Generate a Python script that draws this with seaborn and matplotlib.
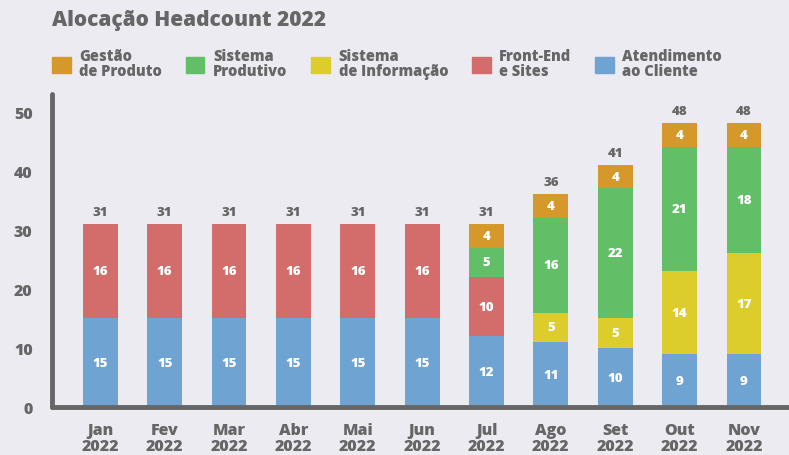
import numpy as np
import pandas as pd
import matplotlib
matplotlib.use("Agg")
import matplotlib.pyplot as plt
import matplotlib.patches as mpatches
import seaborn as sns

# Data
months = ["Jan\n2022", "Fev\n2022", "Mar\n2022", "Abr\n2022", "Mai\n2022", "Jun\n2022",
          "Jul\n2022", "Ago\n2022", "Set\n2022", "Out\n2022", "Nov\n2022"]
atendimento = [15, 15, 15, 15, 15, 15, 12, 11, 10, 9, 9]
front_end = [16, 16, 16, 16, 16, 16, 10, 0, 0, 0, 0]
sist_info = [0, 0, 0, 0, 0, 0, 0, 5, 5, 14, 17]
sist_prod = [0, 0, 0, 0, 0, 0, 5, 16, 22, 21, 18]
gestao = [0, 0, 0, 0, 0, 0, 4, 4, 4, 4, 4]

# bottom -> top
layers = [
    ("Atendimento\nao Cliente", atendimento, "#6EA3D2"),
    ("Front-End\ne Sites", front_end, "#D36D6C"),
    ("Sistema\nde Informação", sist_info, "#DDCD2C"),
    ("Sistema\nProdutivo", sist_prod, "#63BF67"),
    ("Gestão\nde Produto", gestao, "#D4992A"),
]

BG = "#ECEBF1"
GREY = "#666666"

sns.set_theme(style="white")
plt.rcParams["font.family"] = ["Open Sans", "DejaVu Sans"]
plt.rcParams["font.weight"] = "heavy"

df = pd.DataFrame({"month": months})
cum = np.zeros(len(months))
for name, vals, col in layers:
    cum = cum + np.array(vals)
    df[name] = cum.copy()

fig = plt.figure(figsize=(7.89, 4.56), dpi=100, facecolor=BG)
ax = fig.add_axes([0.066, 0.105, 0.934, 0.687])
ax.set_facecolor(BG)

# draw cumulative bars from top layer down so they stack visually
for name, vals, col in reversed(layers):
    sns.barplot(data=df, x="month", y=name, color=col, width=0.54,
                saturation=1, linewidth=0, ax=ax, zorder=2)

# segment labels
cum = np.zeros(len(months))
for name, vals, col in layers:
    for i, v in enumerate(vals):
        if v > 0:
            ax.text(i, cum[i] + v / 2, str(v), ha="center", va="center",
                    color="white", fontsize=9.5, fontweight="heavy", zorder=3)
    cum = cum + np.array(vals)

totals = cum
for i, t in enumerate(totals):
    ax.text(i, t + 1.0, str(int(t)), ha="center", va="bottom",
            color=GREY, fontsize=9.5, fontweight="heavy")

ax.set_xlim(-0.75, 10.7)
ax.set_ylim(0, 53)
ax.set_yticks([0, 10, 20, 30, 40, 50])
ax.set_xlabel("")
ax.set_ylabel("")
ax.tick_params(axis="both", length=0, colors=GREY, labelsize=11.5)
ax.tick_params(axis="y", pad=14)
ax.tick_params(axis="x", pad=11)
for lbl in ax.get_xticklabels() + ax.get_yticklabels():
    lbl.set_fontweight("heavy")
    lbl.set_linespacing(0.95)

for s in ["top", "right"]:
    ax.spines[s].set_visible(False)
for s in ["left", "bottom"]:
    ax.spines[s].set_color(GREY)
    ax.spines[s].set_linewidth(3.5)
    ax.spines[s].set_capstyle("round")

fig.text(0.066, 0.955, "Alocação Headcount 2022", ha="left", va="center",
         color=GREY, fontsize=15, fontweight="heavy")

handles = [mpatches.Patch(color=col, label=name) for name, vals, col in reversed(layers)]
leg = fig.legend(handles=handles, loc="upper left", bbox_to_anchor=(0.058, 0.905),
                 ncol=5, frameon=False, handlelength=1.3, handleheight=1.3,
                 handletextpad=0.6, columnspacing=1.6, borderaxespad=0,
                 prop={"weight": "heavy", "size": 10.5})
for t in leg.get_texts():
    t.set_color(GREY)
    t.set_linespacing(0.9)

fig.savefig("out.png", dpi=100, facecolor=BG)
